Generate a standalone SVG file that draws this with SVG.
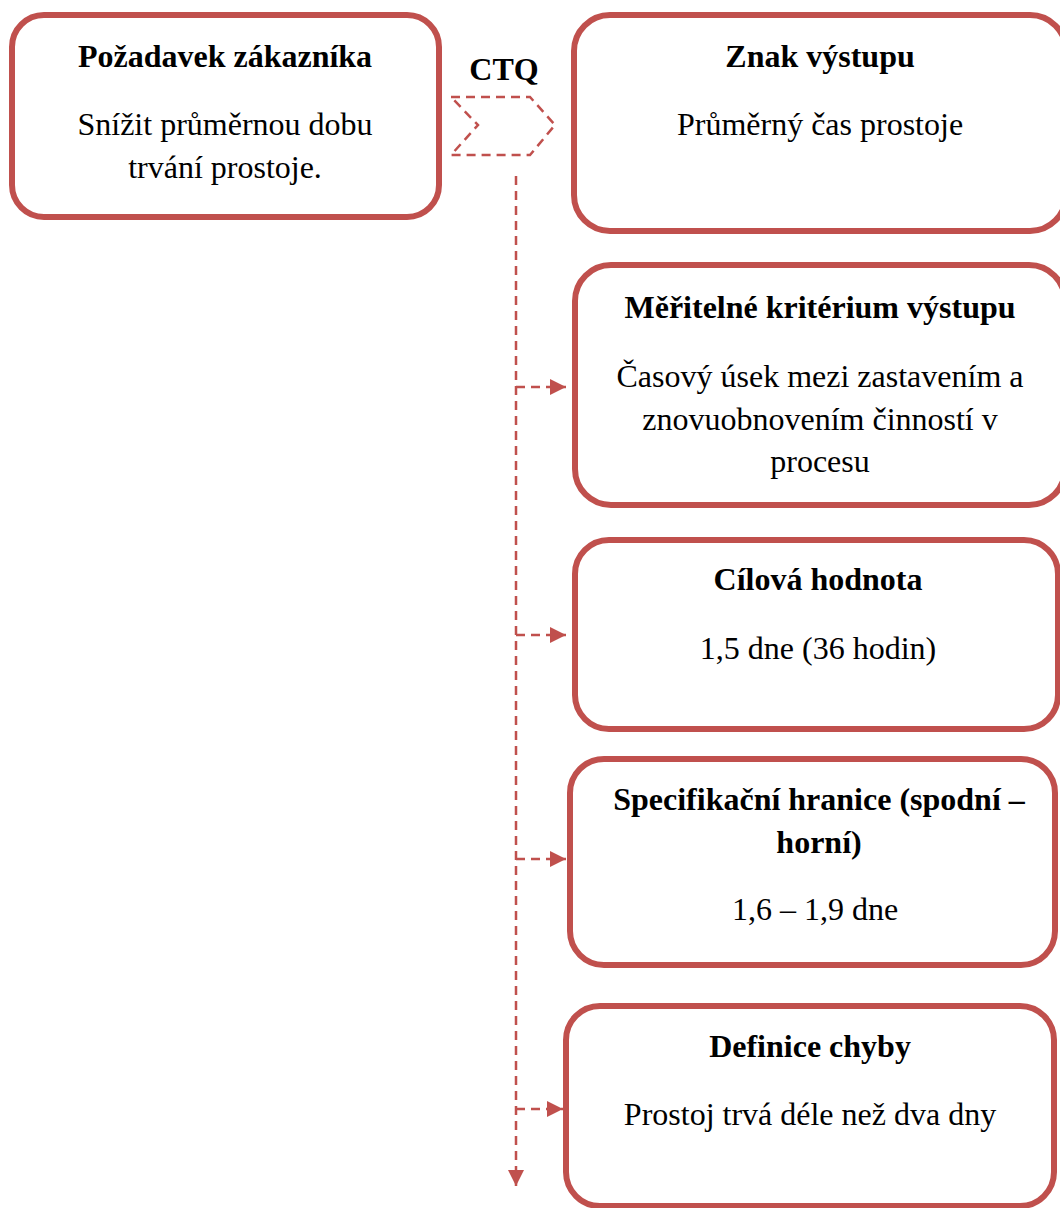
<svg xmlns="http://www.w3.org/2000/svg" width="1060" height="1208" viewBox="0 0 1060 1208">
<defs>
<style>
.box{fill:#fff;stroke:#C0504D;stroke-width:6}
.t{font-family:"Liberation Serif","Times New Roman",serif;font-size:32px;font-weight:bold;fill:#000;text-anchor:middle}
.b{font-family:"Liberation Serif","Times New Roman",serif;font-size:32px;fill:#000;text-anchor:middle}
.d{fill:none;stroke:#C0504D;stroke-width:2.5;stroke-dasharray:9 6}
</style>
<marker id="ah" viewBox="0 0 16 16" refX="16" refY="8" markerWidth="16" markerHeight="16" markerUnits="userSpaceOnUse" orient="auto">
<path d="M0,0 L16,8 L0,16 Z" fill="#C0504D"/>
</marker>
</defs>
<rect width="1060" height="1208" fill="#fff"/>
<g id="node-pozadavek">
<rect class="box" x="12" y="15" width="427" height="202" rx="32"/>
<text class="t" x="225" y="67">Požadavek zákazníka</text>
<text class="b" x="225" y="135">Snížit průměrnou dobu</text>
<text class="b" x="225" y="178">trvání prostoje.</text>
</g>
<g id="node-ctq">
<text class="t" x="504" y="80">CTQ</text>
<path class="d" d="M451,97 L530,97 L555,125 L530,155 L451,155 L478,125 Z"/>
</g>
<g id="node-znak">
<rect class="box" x="574" y="15" width="492" height="216" rx="36"/>
<text class="t" x="820" y="67">Znak výstupu</text>
<text class="b" x="820" y="135">Průměrný čas prostoje</text>
</g>
<g id="node-meritelne">
<rect class="box" x="575" y="265" width="490" height="240" rx="36"/>
<text class="t" x="820" y="318">Měřitelné kritérium výstupu</text>
<text class="b" x="820" y="387">Časový úsek mezi zastavením a</text>
<text class="b" x="820" y="430">znovuobnovením činností v</text>
<text class="b" x="820" y="472">procesu</text>
</g>
<g id="node-cilova">
<rect class="box" x="575" y="540" width="483" height="189" rx="34"/>
<text class="t" x="818" y="590">Cílová hodnota</text>
<text class="b" x="818" y="659">1,5 dne (36 hodin)</text>
</g>
<g id="node-specifikacni">
<rect class="box" x="570" y="759" width="485" height="206" rx="34"/>
<text class="t" x="819" y="810">Specifikační hranice (spodní –</text>
<text class="t" x="819" y="853">horní)</text>
<text class="b" x="815" y="920">1,6 – 1,9 dne</text>
</g>
<g id="node-definice">
<rect class="box" x="566" y="1006" width="488" height="200" rx="34"/>
<text class="t" x="810" y="1057">Definice chyby</text>
<text class="b" x="810" y="1125">Prostoj trvá déle než dva dny</text>
</g>
<g id="connectors">
<path class="d" d="M516,176 L516,1186" marker-end="url(#ah)"/>
<path class="d" d="M516,387 L566,387" marker-end="url(#ah)"/>
<path class="d" d="M516,635 L566,635" marker-end="url(#ah)"/>
<path class="d" d="M516,859 L566,859" marker-end="url(#ah)"/>
<path class="d" d="M516,1109 L563,1109" marker-end="url(#ah)"/>
</g>
</svg>
